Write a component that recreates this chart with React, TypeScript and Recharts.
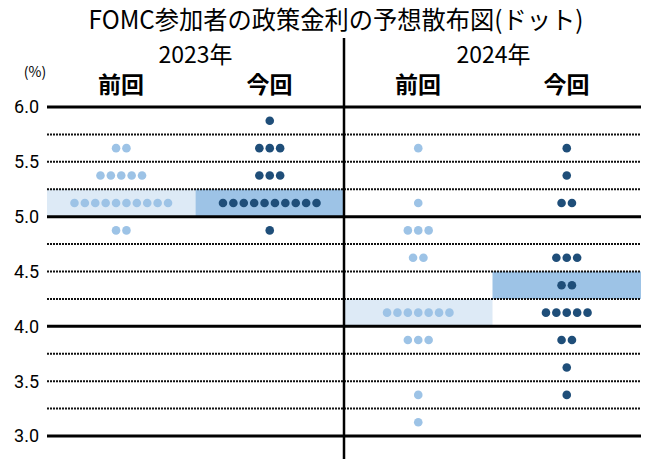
import {
  ScatterChart,
  Scatter,
  XAxis,
  YAxis,
  ReferenceLine,
  ReferenceArea,
} from "recharts";

// rate levels (midpoints of 0.25 ranges), top to bottom
const levels = [5.875, 5.625, 5.375, 5.125, 4.875, 4.625, 4.375, 4.125, 3.875, 3.625, 3.375, 3.125];

// number of dots at each level
const prev2023 = [0, 2, 5, 10, 2, 0, 0, 0, 0, 0, 0, 0];
const curr2023 = [1, 3, 3, 10, 1, 0, 0, 0, 0, 0, 0, 0];
const prev2024 = [0, 1, 0, 1, 3, 2, 0, 7, 3, 0, 1, 1];
const curr2024 = [0, 1, 1, 2, 0, 3, 2, 5, 2, 1, 1, 0];

const yearLabels = ["2023年", "2024年"];
const roundLabels = ["前回", "今回", "前回", "今回"];
const yTicks = [3.0, 3.5, 4.0, 4.5, 5.0, 5.5, 6.0];
const gridLines = [3.25, 3.5, 3.75, 4.25, 4.5, 4.75, 5.25, 5.5, 5.75];
const solidLines = [3, 4, 5, 6];

const LIGHT = "#9dc3e6";
const DARK = "#1f4e79";
const BAND_LIGHT = "#ddeaf6";
const BAND_DARK = "#9dc3e6";
const STEP = 0.07;

const toPoints = (counts: number[], center: number) =>
  counts.flatMap((n, i) =>
    Array.from({ length: n }, (_, k) => ({
      x: center + (k - (n - 1) / 2) * STEP,
      y: levels[i],
    }))
  );

const dot = (color: string) => (props: any) =>
  <circle cx={props.cx} cy={props.cy} r={4.3} fill={color} />;

const jp = "'Noto Sans CJK JP', sans-serif";

const Label = ({ x, y, size, text, sx, bold }: any) => (
  <div
    style={{
      position: "absolute",
      left: x,
      top: y,
      fontFamily: jp,
      fontSize: size,
      fontWeight: bold ? 700 : 400,
      lineHeight: 1,
      whiteSpace: "nowrap",
      transform: `translateX(-50%) scaleX(${sx})`,
      color: "#000",
    }}
  >
    {text}
  </div>
);

export default function App() {
  const cols = [0.5, 1.5, 2.5, 3.5];
  return (
    <div style={{ position: "absolute", left: 0, top: 0, width: 649, height: 459, background: "#fff" }}>
      <ScatterChart width={649} height={459} margin={{ top: 107, right: 8, bottom: 23, left: 0 }}>
        <XAxis type="number" dataKey="x" domain={[0, 4]} hide />
        <YAxis
          type="number"
          dataKey="y"
          domain={[3, 6]}
          ticks={yTicks}
          tickFormatter={(v) => v.toFixed(1)}
          width={47}
          axisLine={false}
          tickLine={false}
          tick={{ fontFamily: "Roboto", fontSize: 18, fill: "#000" }}
        />
        <ReferenceArea x1={0} x2={1} y1={5} y2={5.25} fill={BAND_LIGHT} fillOpacity={1} stroke="none" />
        <ReferenceArea x1={1} x2={2} y1={5} y2={5.25} fill={BAND_DARK} fillOpacity={1} stroke="none" />
        <ReferenceArea x1={2} x2={3} y1={4} y2={4.25} fill={BAND_LIGHT} fillOpacity={1} stroke="none" />
        <ReferenceArea x1={3} x2={4} y1={4.25} y2={4.5} fill={BAND_DARK} fillOpacity={1} stroke="none" />
        {gridLines.map((v) => (
          <ReferenceLine key={v} y={v} stroke="#111" strokeWidth={2} strokeDasharray="2 1" />
        ))}
        {solidLines.map((v) => (
          <ReferenceLine key={v} y={v} stroke="#000" strokeWidth={3} />
        ))}
        <ReferenceLine
          segment={[{ x: 2, y: 2.79 }, { x: 2, y: 6.63 }]}
          ifOverflow="visible"
          stroke="#000"
          strokeWidth={2.5}
        />
        <Scatter data={toPoints(prev2023, cols[0])} shape={dot(LIGHT)} isAnimationActive={false} />
        <Scatter data={toPoints(curr2023, cols[1])} shape={dot(DARK)} isAnimationActive={false} />
        <Scatter data={toPoints(prev2024, cols[2])} shape={dot(LIGHT)} isAnimationActive={false} />
        <Scatter data={toPoints(curr2024, cols[3])} shape={dot(DARK)} isAnimationActive={false} />
      </ScatterChart>
      <Label x={336} y={6} size={25} sx={0.97} text="FOMC参加者の政策金利の予想散布図(ドット)" />
      <Label x={195.5} y={42} size={23} sx={1} text={yearLabels[0]} />
      <Label x={493.5} y={42} size={23} sx={1} text={yearLabels[1]} />
      {roundLabels.map((t, i) => (
        <Label key={i} x={121 + i * 148.5} y={72} size={23} sx={1} bold text={t} />
      ))}
      <Label x={35} y={64} size={14} sx={1} text="(%)" />
    </div>
  );
}
